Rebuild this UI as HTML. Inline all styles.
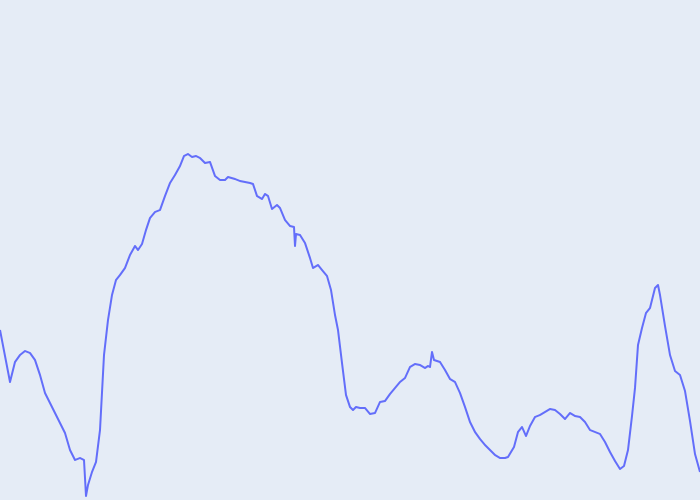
<!DOCTYPE html>
<html><head><meta charset="utf-8">
<style>
html,body{margin:0;padding:0;background:#E5ECF6;}
svg{display:block;}
</style></head>
<body>
<svg id="chart" width="700" height="500" viewBox="0 0 700 500">
<rect x="0" y="0" width="700" height="500" fill="#E5ECF6"/>
</svg>
<script>
const xValues = [0,10,15,20,25,30,35,40,45,50,55,60,65,70,75,80,84,86,88,92,96,100,104,108,112,116,120,125,130,135,138,142,146,150,155,160,165,170,175,180,184,188,192,196,200,205,210,215,220,225,228,235,240,245,250,253,257,262,265,268,272,277,280,285,290,294,295,296,300,305,310,313,318,322,327,331,335,338,342,346,350,353,356,360,365,370,375,380,385,390,395,400,405,410,415,420,425,428,430,432,434,440,445,450,455,460,465,470,475,480,485,490,495,500,505,508,514,518,522,526,530,535,540,545,550,555,560,565,570,575,580,585,590,595,600,605,610,615,620,624,628,632,635,638,642,646,650,655,658,660,665,670,675,680,685,690,695,700];
const yValues = [170,118,138,145,149,147,140,125,107,97,87,77,67,50,40,42,40,4,15,28,38,70,145,180,205,220,225,232,245,254,250,256,270,282,288,290,304,317,325,334,344,346,343,344,342,337,338,324,320,320,323,321,319,318,317,316,304,301,306,304,291,295,292,280,274,273,254,266,265,257,242,232,235,230,224,210,185,170,137,105,93,90,93,92,92,86,87,98,99,106,112,118,122,133,136,135,132,134,133,148,140,138,130,121,118,107,93,78,68,61,55,50,45,42,42,43,53,68,73,64,74,83,85,88,91,90,86,81,87,84,83,78,70,68,66,58,48,39,31,34,50,84,112,155,172,187,192,212,215,205,174,145,129,125,109,79,46,28];
const W=700,H=500;
const xScale = v => v/700*W;
const yScale = v => H - v/500*H;
const svg=document.getElementById('chart');
let d='';
for(let i=0;i<xValues.length;i++){d+=(i?'L':'M')+xScale(xValues[i]).toFixed(1)+','+yScale(yValues[i]).toFixed(1);}
const p=document.createElementNS('http://www.w3.org/2000/svg','path');
p.setAttribute('d',d);
p.setAttribute('fill','none');
p.setAttribute('stroke','#636EFA');
p.setAttribute('stroke-width','2');
p.setAttribute('stroke-linejoin','round');


svg.appendChild(p);
</script>
</body></html>
